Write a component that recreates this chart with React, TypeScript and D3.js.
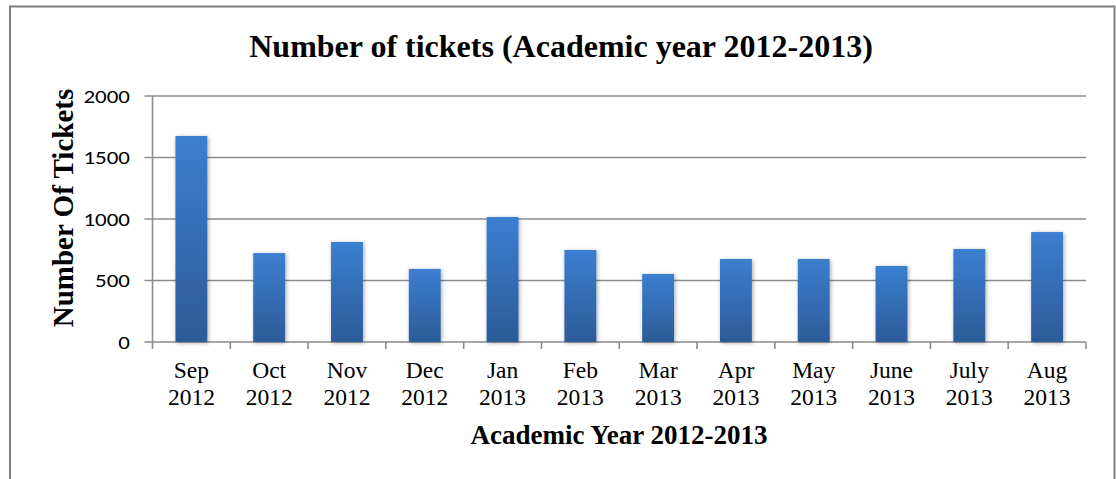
import React from "react";
import * as d3 from "d3";

const months = ["Sep", "Oct", "Nov", "Dec", "Jan", "Feb", "Mar", "Apr", "May", "June", "July", "Aug"];
const years = ["2012", "2012", "2012", "2012", "2013", "2013", "2013", "2013", "2013", "2013", "2013", "2013"];
const tickets = [1675, 723, 813, 594, 1016, 748, 553, 675, 675, 618, 756, 894];
const yTicks = [0, 500, 1000, 1500, 2000];

const W = 1116;
const H = 479;
const left = 152.5;
const right = 1086;
const top = 96;
const bottom = 342;

export default function App() {
  const x = d3.scaleBand<number>().domain(d3.range(months.length)).range([left, right]).padding(0);
  const y = d3.scaleLinear().domain([0, 2000]).range([bottom, top]);
  const bw = x.bandwidth() * 0.41;
  const serif = "'Liberation Serif', 'Times New Roman', serif";
  const sans = "Carlito, 'Liberation Sans', Arial, sans-serif";
  const gridColor = "#8c8c8c";

  return (
    <svg width={W} height={H} style={{ position: "absolute", left: 0, top: 0, background: "#fff" }}>
      <defs>
        <linearGradient id="barGrad" x1="0" y1="0" x2="0" y2="1">
          <stop offset="0%" stopColor="#3b7fd0" />
          <stop offset="100%" stopColor="#2c5b98" />
        </linearGradient>
        <filter id="shadow" x="-30%" y="-10%" width="160%" height="120%">
          <feGaussianBlur in="SourceAlpha" stdDeviation="2" />
          <feOffset dx="1" dy="1" result="b" />
          <feComponentTransfer>
            <feFuncA type="linear" slope="0.35" />
          </feComponentTransfer>
          <feMerge>
            <feMergeNode />
            <feMergeNode in="SourceGraphic" />
          </feMerge>
        </filter>
      </defs>
      {/* frame */}
      <rect x={10} y={6.5} width={1104.5} height={H + 10} fill="none" stroke="#7f7f7f" strokeWidth={2} />

      {/* title */}
      <text x={561} y={57} textAnchor="middle" fontFamily={serif} fontWeight="bold" fontSize={32} fill="#000">
        Number of tickets (Academic year 2012-2013)
      </text>

      {/* gridlines */}
      {yTicks.map((t) => (
        <g key={t}>
          <line x1={left - 8} x2={right} y1={y(t)} y2={y(t)} stroke={gridColor} strokeWidth={1.6} />
          <text
            transform={`translate(130, ${y(t) + 6.5}) scale(1.15, 0.92)`}
            textAnchor="end"
            fontFamily={sans}
            fontSize={20}
            fill="#000"
          >
            {t}
          </text>
        </g>
      ))}

      {/* y axis line */}
      <line x1={left} x2={left} y1={top} y2={bottom} stroke={gridColor} strokeWidth={1.6} />

      {/* x ticks */}
      {d3.range(months.length + 1).map((i) => {
        const xx = i < months.length ? (x(i) as number) : right;
        return <line key={i} x1={xx} x2={xx} y1={bottom} y2={bottom + 7} stroke={gridColor} strokeWidth={1.6} />;
      })}

      {/* bars */}
      {tickets.map((v, i) => {
        const cx = (x(i) as number) + x.bandwidth() / 2;
        return (
          <rect
            key={i}
            x={cx - bw / 2}
            y={y(v)}
            width={bw}
            height={y(0) - y(v)}
            fill="url(#barGrad)"
            filter="url(#shadow)"
          />
        );
      })}

      {/* x labels */}
      {months.map((m, i) => {
        const cx = (x(i) as number) + x.bandwidth() / 2;
        return (
          <text key={i} textAnchor="middle" fontFamily={serif} fontSize={23.5} fill="#000">
            <tspan x={cx} y={378}>{m}</tspan>
            <tspan x={cx} y={405}>{years[i]}</tspan>
          </text>
        );
      })}

      {/* axis titles */}
      <text x={619} y={444} textAnchor="middle" fontFamily={serif} fontWeight="bold" fontSize={27} fill="#000">
        Academic Year 2012-2013
      </text>
      <text
        transform={`translate(73, ${(top + bottom) / 2 - 11}) rotate(-90)`}
        textAnchor="middle"
        fontFamily={serif}
        fontWeight="bold"
        fontSize={29}
        fill="#000"
      >
        Number Of Tickets
      </text>
    </svg>
  );
}
